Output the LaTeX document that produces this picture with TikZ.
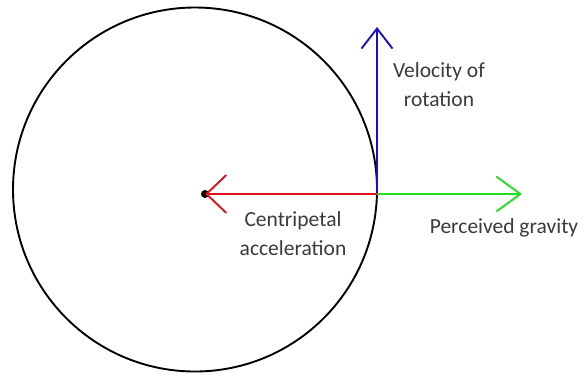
\documentclass[tikz,border=0pt]{standalone}
\usepackage{fontspec}
\setmainfont{Carlito}
\usetikzlibrary{arrows.meta}
\definecolor{txt}{HTML}{3A3A3A}
\definecolor{vred}{HTML}{E0141E}
\definecolor{vgreen}{HTML}{22DD22}
\definecolor{vblue}{HTML}{1A10C8}
\begin{document}
\begin{tikzpicture}[x=1pt,y=-1pt,
  lbl/.style={text=txt,font=\fontsize{21.5}{29}\selectfont,align=center,inner sep=0pt},
  vec/.style={line width=1.9pt},
]
\useasboundingbox (0,0) rectangle (584,376);
\draw[line width=1.9pt] (195,189.5) circle[radius=182];
\coordinate (P) at (377,194);
\coordinate (C) at (205,194);
\coordinate (V) at (377,27);
\coordinate (G) at (522,194);
\fill (C) circle[radius=4];
\draw[vec,vblue,-{Straight Barb[length=20pt,width=31pt,line width=1.9pt]}] (P) -- (V);
\draw[vec,vred,-{Straight Barb[length=20pt,width=38pt,line width=1.9pt]}] (P) -- (C);
\draw[vec,vgreen,-{Straight Barb[length=24pt,width=35pt,line width=1.9pt]}] (P) -- (G);
\node[lbl] (lv) at (439,85) {Velocity of\\rotation};
\node[lbl] (lc) at (293,233.5) {Centripetal\\acceleration};
\node[lbl] (lg) at (504,228) {Perceived gravity};
\end{tikzpicture}
\end{document}
